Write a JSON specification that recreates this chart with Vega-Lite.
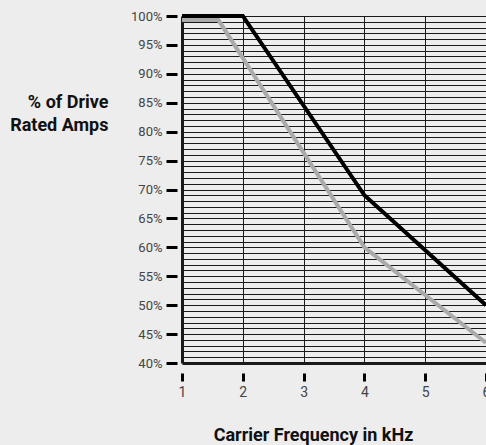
{
  "$schema": "https://vega.github.io/schema/vega-lite/v6.json",
  "width": 304,
  "height": 347,
  "autosize": "none",
  "padding": {"left": 182, "top": 16, "right": 0, "bottom": 82},
  "background": "#ededed",
  "config": {"view": {"stroke": null}, "font": "Roboto"},
  "data": {
    "values": [
      {"series": "upper", "khz": 1, "pct": 100},
      {"series": "upper", "khz": 2, "pct": 100},
      {"series": "upper", "khz": 4, "pct": 69},
      {"series": "upper", "khz": 6, "pct": 50},
      {"series": "lower", "khz": 1, "pct": 99.3},
      {"series": "lower", "khz": 1.6, "pct": 99.3},
      {"series": "lower", "khz": 4, "pct": 60},
      {"series": "lower", "khz": 6, "pct": 43.5}
    ]
  },
  "mark": {"type": "line", "strokeWidth": 4, "clip": false},
  "encoding": {
    "x": {
      "field": "khz",
      "type": "quantitative",
      "scale": {"domain": [1, 6], "nice": false, "zero": false},
      "axis": {
        "values": [1, 2, 3, 4, 5, 6],
        "grid": true,
        "gridColor": "#1a1a1a",
        "gridWidth": {"condition": {"test": "datum.value === 1", "value": 3}, "value": 1},
        "domain": false,
        "offset": 10,
        "tickSize": 8,
        "tickWidth": 3,
        "tickColor": "#000",
        "labelPadding": 4,
        "labelFontSize": 14,
        "labelColor": "#444",
        "labelFlush": false,
        "title": "Carrier Frequency in kHz",
        "titleFontSize": 18,
        "titleFontWeight": "bold",
        "titleColor": "#111",
        "titleX": 131,
        "titleY": 67,
        "titleAlign": "center",
        "titleBaseline": "alphabetic"
      }
    },
    "y": {
      "field": "pct",
      "type": "quantitative",
      "scale": {"domain": [40, 100], "nice": false, "zero": false},
      "axis": {
        "values": [40,41,42,43,44,45,46,47,48,49,50,51,52,53,54,55,56,57,58,59,60,61,62,63,64,65,66,67,68,69,70,71,72,73,74,75,76,77,78,79,80,81,82,83,84,85,86,87,88,89,90,91,92,93,94,95,96,97,98,99,100],
        "grid": true,
        "gridColor": "#1a1a1a",
        "gridWidth": {"condition": {"test": "datum.value === 40", "value": 3}, "value": 1},
        "domain": false,
        "offset": 5,
        "tickSize": 11,
        "tickWidth": 3,
        "tickColor": "#000",
        "tickOpacity": {"condition": {"test": "datum.value % 5 === 0", "value": 1}, "value": 0},
        "labelExpr": "datum.value % 5 === 0 ? datum.value + '%' : ''",
        "labelOverlap": false,
        "labelPadding": 4,
        "labelFontSize": 13,
        "labelColor": "#444",
        "title": ["% of Drive", "Rated Amps"],
        "titleAngle": 0,
        "titleFontSize": 18,
        "titleFontWeight": "bold",
        "titleColor": "#111",
        "titleAlign": "right",
        "titleBaseline": "alphabetic",
        "titleLineHeight": 23,
        "titleX": -69,
        "titleY": 91
      }
    },
    "color": {
      "field": "series",
      "type": "nominal",
      "scale": {"domain": ["lower", "upper"], "range": ["#aaaaaa", "#000000"]},
      "legend": null
    }
  }
}
